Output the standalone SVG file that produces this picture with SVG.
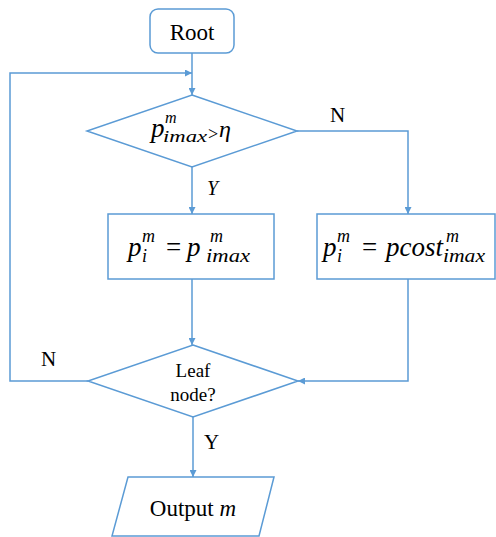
<svg xmlns="http://www.w3.org/2000/svg" width="496" height="537" viewBox="0 0 496 537">
<defs>
<marker id="arr" viewBox="0 0 10 10" refX="10" refY="5" markerWidth="7" markerHeight="7" markerUnits="userSpaceOnUse" orient="auto">
<path d="M0,0 L10,5 L0,10 z" fill="#5b9bd5"/>
</marker>
<style>
.shape{fill:#ffffff;stroke:#5b9bd5;stroke-width:1.5}
.conn{fill:none;stroke:#5b9bd5;stroke-width:1.5}
.lbl{font-family:"Liberation Serif",serif;fill:#000;}
.m{font-family:"Liberation Serif","Times New Roman",serif;font-style:italic;fill:#000;}
.r{font-style:normal}
</style>
</defs>
<rect width="496" height="537" fill="#ffffff"/>
<g id="connectors">
<path class="conn" d="M192,53 V95" marker-end="url(#arr)"/>
<path class="conn" d="M192,167 V214" marker-end="url(#arr)"/>
<path class="conn" d="M297,131 H408 V214" marker-end="url(#arr)"/>
<path class="conn" d="M192,279 V345" marker-end="url(#arr)"/>
<path class="conn" d="M408,279 V381 H298" marker-end="url(#arr)"/>
<path class="conn" d="M88,381 H10 V73 H192" marker-end="url(#arr)"/>
<path class="conn" d="M193,417 V477" marker-end="url(#arr)"/>
<text class="lbl" x="330" y="122" font-size="21">N</text>
<text class="lbl" x="207" y="195" font-size="20" font-style="italic">Y</text>
<text class="lbl" x="41" y="366" font-size="21">N</text>
<text class="lbl" x="204" y="449" font-size="21">Y</text>
</g>
<g id="root">
<rect class="shape" x="150" y="9" width="84" height="44" rx="8"/>
<text class="lbl" x="192" y="40" font-size="23" text-anchor="middle">Root</text>
</g>
<g id="decision1">
<polygon class="shape" points="192,95 297,131 192,167 87,131"/>
<text class="m" font-size="27"><tspan x="151" y="137">p</tspan><tspan x="165" y="123" font-size="16">m</tspan><tspan x="163" y="142" font-size="16" textLength="44" lengthAdjust="spacingAndGlyphs">imax</tspan><tspan class="r" x="208" y="140" font-size="18">&gt;</tspan><tspan x="219" y="137" font-size="24">η</tspan></text>
</g>
<g id="box1">
<rect class="shape" x="108" y="214" width="166" height="65"/>
<text class="m" font-size="27"><tspan x="128" y="256">p</tspan><tspan x="142" y="242" font-size="18">m</tspan><tspan x="142" y="262" font-size="18">i</tspan><tspan class="r" x="166" y="256">=</tspan><tspan x="187" y="256">p</tspan><tspan x="210" y="242" font-size="18">m</tspan><tspan x="206" y="262" font-size="18" textLength="44" lengthAdjust="spacingAndGlyphs">imax</tspan></text>
</g>
<g id="box2">
<rect class="shape" x="317" y="214" width="178" height="65"/>
<text class="m" font-size="27"><tspan x="323" y="256">p</tspan><tspan x="337" y="242" font-size="18">m</tspan><tspan x="337" y="262" font-size="18">i</tspan><tspan class="r" x="362" y="256">=</tspan><tspan x="386" y="256" textLength="57" lengthAdjust="spacingAndGlyphs">pcost</tspan><tspan x="446" y="242" font-size="18">m</tspan><tspan x="443" y="262" font-size="18" textLength="42" lengthAdjust="spacingAndGlyphs">imax</tspan></text>
</g>
<g id="decision2">
<polygon class="shape" points="193,345 298,381 193,417 88,381"/>
<text class="lbl" x="193" y="377" font-size="19" text-anchor="middle">Leaf</text>
<text class="lbl" x="193" y="401" font-size="19" text-anchor="middle">node?</text>
</g>
<g id="output">
<polygon class="shape" points="128,477 274,477 259,536 112,536"/>
<text class="lbl" x="193" y="516" font-size="23" text-anchor="middle">Output <tspan font-style="italic">m</tspan></text>
</g>
</svg>
